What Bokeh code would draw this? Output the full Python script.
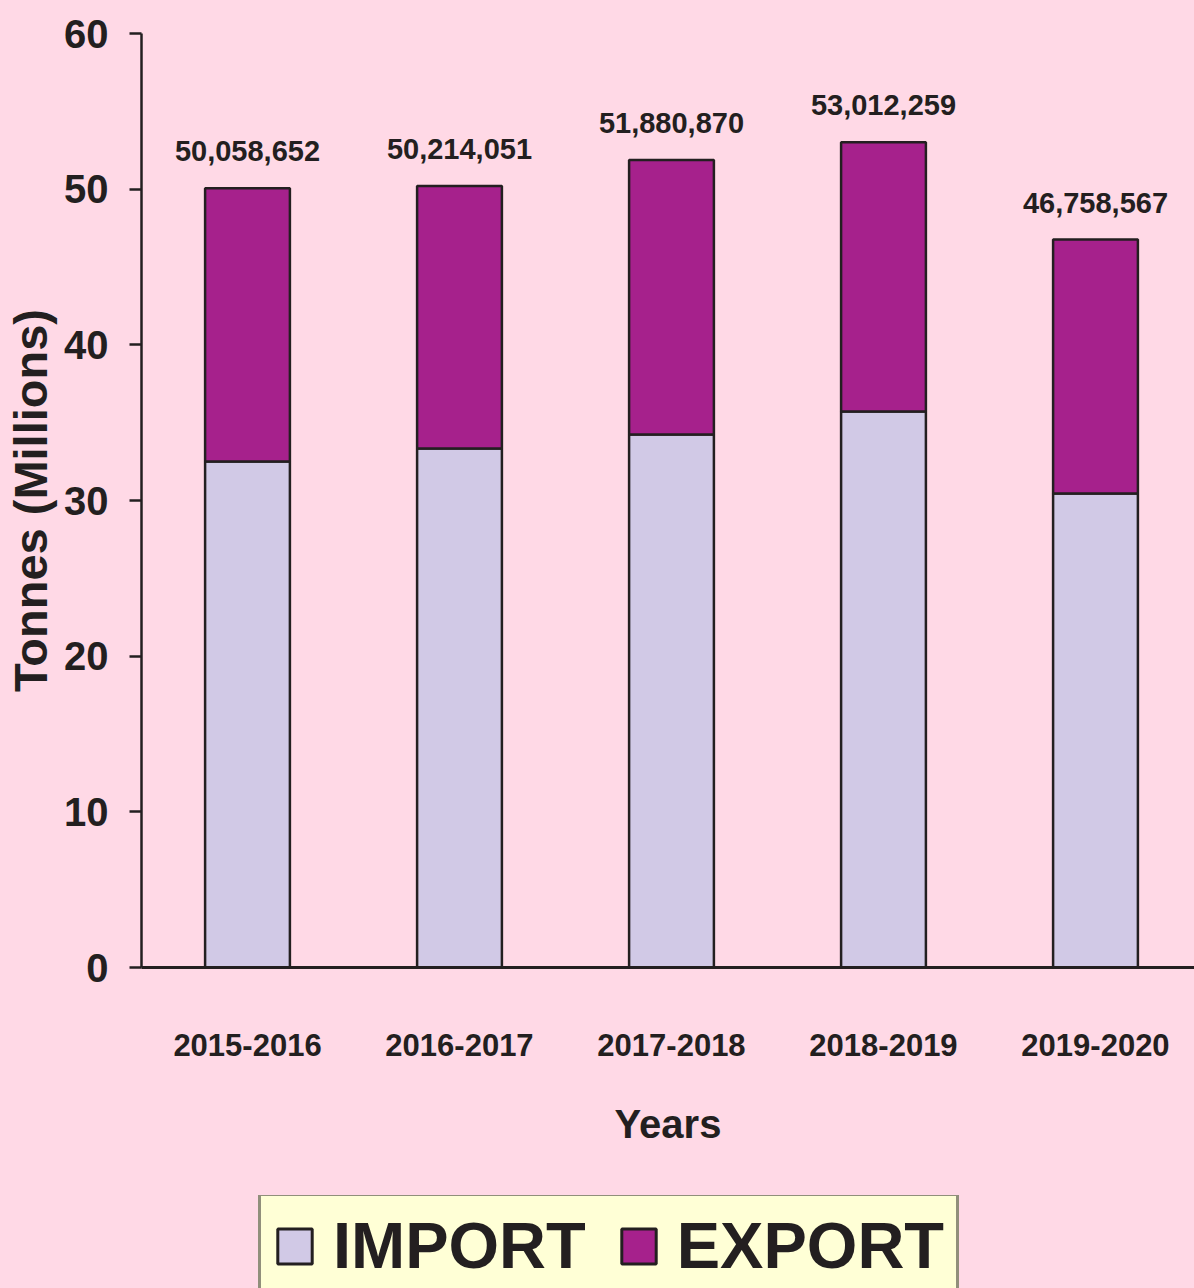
import numpy as np
from bokeh.plotting import figure
from bokeh.models import (ColumnDataSource, Range1d, FixedTicker, Legend, LegendItem,
                          LabelSet)
from bokeh.layouts import column
from bokeh.core.properties import value
from bokeh.embed import file_html
from bokeh.resources import INLINE

# ---- data ----
years = ["2015-2016", "2016-2017", "2017-2018", "2018-2019", "2019-2020"]
import_mt = [32.5, 33.34, 34.24, 35.72, 30.45]
export_mt = [17.56, 16.87, 17.64, 17.29, 16.31]
totals = [50058652, 50214051, 51880870, 53012259, 46758567]
series = ["IMPORT", "EXPORT"]
y_ticks = [0, 10, 20, 30, 40, 50, 60]

BG = "#FFD9E6"
COLORS = ["#D1C9E6", "#A6218C"]
INK = "#231F20"
FONT = "Liberation Sans"

xpos = [i + 0.5 for i in range(len(years))]
src = ColumnDataSource(dict(
    x=xpos, imp=import_mt, exp=export_mt,
    top=[t / 1e6 for t in totals],
    lab=[f"{t:,}" for t in totals],
))

p = figure(width=1194, height=1195, output_backend="svg", toolbar_location=None,
           x_range=Range1d(0, 4.967), y_range=Range1d(0, 60),
           background_fill_color=BG, border_fill_color=BG,
           min_border_left=141, min_border_top=33, min_border_right=0,
           min_border_bottom=228)
p.outline_line_color = None
p.grid.visible = False

r = p.vbar_stack(["imp", "exp"], x="x", width=0.4, source=src,
                 fill_color=COLORS, line_color=INK, line_width=2.5)

labels = LabelSet(x="x", y="top", text="lab", source=src, text_align="center",
                  text_baseline="bottom", y_offset=27,
                  text_font=value(FONT), text_font_style="bold",
                  text_font_size="29px", text_color=INK)
p.add_layout(labels)

# y axis
ya = p.yaxis[0]
ya.ticker = FixedTicker(ticks=y_ticks)
ya.axis_line_color = INK
ya.axis_line_width = 2.5
ya.major_tick_line_color = INK
ya.major_tick_line_width = 2.5
ya.major_tick_out = 12
ya.major_tick_in = 0
ya.minor_tick_line_color = None
ya.major_label_standoff = 21
ya.major_label_text_font = FONT
ya.major_label_text_font_style = "bold"
ya.major_label_text_font_size = "40px"
ya.major_label_text_color = INK
ya.axis_label = "Tonnes (Millions)"
ya.axis_label_text_font = FONT
ya.axis_label_text_font_style = "bold"
ya.axis_label_text_font_size = "47px"
ya.axis_label_text_color = INK
ya.axis_label_standoff = 4

# x axis
xa = p.xaxis[0]
xa.ticker = FixedTicker(ticks=xpos)
xa.major_label_overrides = {x: y for x, y in zip(xpos, years)}
xa.axis_line_color = INK
xa.axis_line_width = 3
xa.major_tick_line_color = None
xa.minor_tick_line_color = None
xa.major_label_standoff = 60
xa.major_label_text_font = FONT
xa.major_label_text_font_style = "bold"
xa.major_label_text_font_size = "31px"
xa.major_label_text_color = INK
xa.axis_label = "Years"
xa.axis_label_text_font = FONT
xa.axis_label_text_font_style = "bold"
xa.axis_label_text_font_size = "40px"
xa.axis_label_text_color = INK
xa.axis_label_standoff = 43

# legend strip below the chart: swatch renderers with no drawable data
p2 = figure(width=1194, height=93, output_backend="svg", toolbar_location=None,
            x_range=Range1d(0, 4.967), y_range=Range1d(0, 1),
            x_axis_location=None, y_axis_location=None,
            background_fill_color=BG, border_fill_color=BG, min_border=0)
p2.outline_line_color = None
p2.grid.visible = False
leg_src = ColumnDataSource(dict(x=np.array([np.nan]), top=np.array([np.nan])))
swatches = [p2.vbar(x="x", top="top", width=0.4, source=leg_src, fill_color=c,
                    line_color=INK, line_width=3) for c in COLORS]

legend = Legend(items=[LegendItem(label=s, renderers=[g]) for s, g in zip(series, swatches)],
                orientation="horizontal", location=(117, -10),
                label_text_font=FONT, label_text_font_style="bold",
                label_text_font_size="65px", label_text_color=INK,
                glyph_width=43, glyph_height=44, label_standoff=17,
                spacing=31, padding=12, margin=0,
                background_fill_color="#FFFFD6", background_fill_alpha=1,
                border_line_color=INK, border_line_width=3)
p2.add_layout(legend, "center")

layout = column(p, p2, spacing=0)
html = file_html(layout, INLINE)
html = html.replace("<head>", "<head><style>body{background:#FFD9E6;}</style>", 1)
open("out.html", "w").write(html)
